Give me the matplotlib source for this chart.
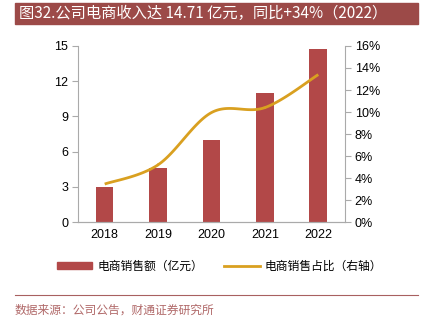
import numpy as np
import matplotlib.pyplot as plt
from matplotlib.patches import Rectangle, Patch
from matplotlib.lines import Line2D

plt.rcParams['font.family'] = ['Noto Sans CJK SC', 'DejaVu Sans']

# === DATA ===
years = ["2018", "2019", "2020", "2021", "2022"]
sales = [2.98, 4.6, 6.96, 11.0, 14.71]          # 电商销售额（亿元）
share = [3.45, 5.2, 9.95, 10.4, 13.4]           # 电商销售占比（%）
left_ticks = [0, 3, 6, 9, 12, 15]
right_ticks = [0, 2, 4, 6, 8, 10, 12, 14, 16]

title = "图32.公司电商收入达 14.71 亿元，同比+34%（2022）"
source = "数据来源：公司公告，财通证券研究所"

bar_color = "#B24848"
line_color = "#D9A020"
banner_color = "#9C4A48"
axis_color = "#AAAAAA"


def catmull_rom(xs, ys, n=30):
    # Excel-like smoothed line through the points
    p = np.column_stack([xs, ys]).astype(float)
    p = np.vstack([p[0], p, p[-1]])
    out = []
    for i in range(1, len(p) - 2):
        p0, p1, p2, p3 = p[i - 1], p[i], p[i + 1], p[i + 2]
        t = np.linspace(0, 1, n)[:, None]
        seg = 0.5 * ((2 * p1) + (-p0 + p2) * t + (2 * p0 - 5 * p1 + 4 * p2 - p3) * t ** 2
                     + (-p0 + 3 * p1 - 3 * p2 + p3) * t ** 3)
        out.append(seg)
    out = np.vstack(out)
    return out[:, 0], out[:, 1]


fig = plt.figure(figsize=(4.22, 3.21), dpi=100)
ax = fig.add_axes([0.1848, 0.3084, 0.6327, 0.5483])
ax2 = ax.twinx()

x = np.arange(len(years))
ax.bar(x, sales, width=0.33, color=bar_color, zorder=2)
ax.set_xlim(-0.5, len(years) - 0.5)
ax.set_ylim(0, 15)
ax.set_yticks(left_ticks)
ax.set_xticks(x)
ax.set_xticklabels(years)

sx, sy = catmull_rom(x, share)
ax2.plot(sx, sy, color=line_color, lw=2, solid_capstyle="butt")
ax2.set_ylim(0, 16)
ax2.set_yticks(right_ticks)
ax2.set_yticklabels([f"{t}%" for t in right_ticks])

for a in (ax, ax2):
    a.spines["top"].set_visible(False)
    for s in ("left", "right", "bottom"):
        a.spines[s].set_color(axis_color)
        a.spines[s].set_linewidth(0.8)
    a.tick_params(axis="y", colors=axis_color, labelcolor="black", labelsize=9,
                  length=4, width=0.8, direction="out", pad=3)
    a.tick_params(axis="x", length=0, labelsize=9, pad=5)
    for lab in a.get_yticklabels() + a.get_xticklabels():
        lab.set_family(["Liberation Sans", "DejaVu Sans"])
ax.spines["right"].set_visible(False)
ax2.spines["left"].set_visible(False)

# Title banner
fig.patches.append(Rectangle((15 / 422, 1 - 24 / 321), 403 / 422, 21 / 321,
                             transform=fig.transFigure, color=banner_color, zorder=0))
fig.text(19 / 422, 1 - 13.5 / 321, title, color="white", fontsize=11,
         ha="left", va="center")

# Legend
handles = [Patch(color=bar_color, label="电商销售额（亿元）"),
           Line2D([], [], color=line_color, lw=2, label="电商销售占比（右轴）")]
fig.legend(handles=handles, loc="center", bbox_to_anchor=(0.52, 1 - 266 / 321),
           ncol=2, frameon=False, fontsize=8.5, handlelength=3.0, handleheight=0.5,
           columnspacing=1.8, handletextpad=0.4)

# Separator + source
fig.add_artist(Line2D([15 / 422, 418 / 422], [1 - 295 / 321] * 2,
                      transform=fig.transFigure, color="#A86060", lw=0.8))
fig.text(15 / 422, 1 - 310 / 321, source, color="#B06868", fontsize=8.5,
         ha="left", va="center")

fig.savefig("out.png", dpi=100)
